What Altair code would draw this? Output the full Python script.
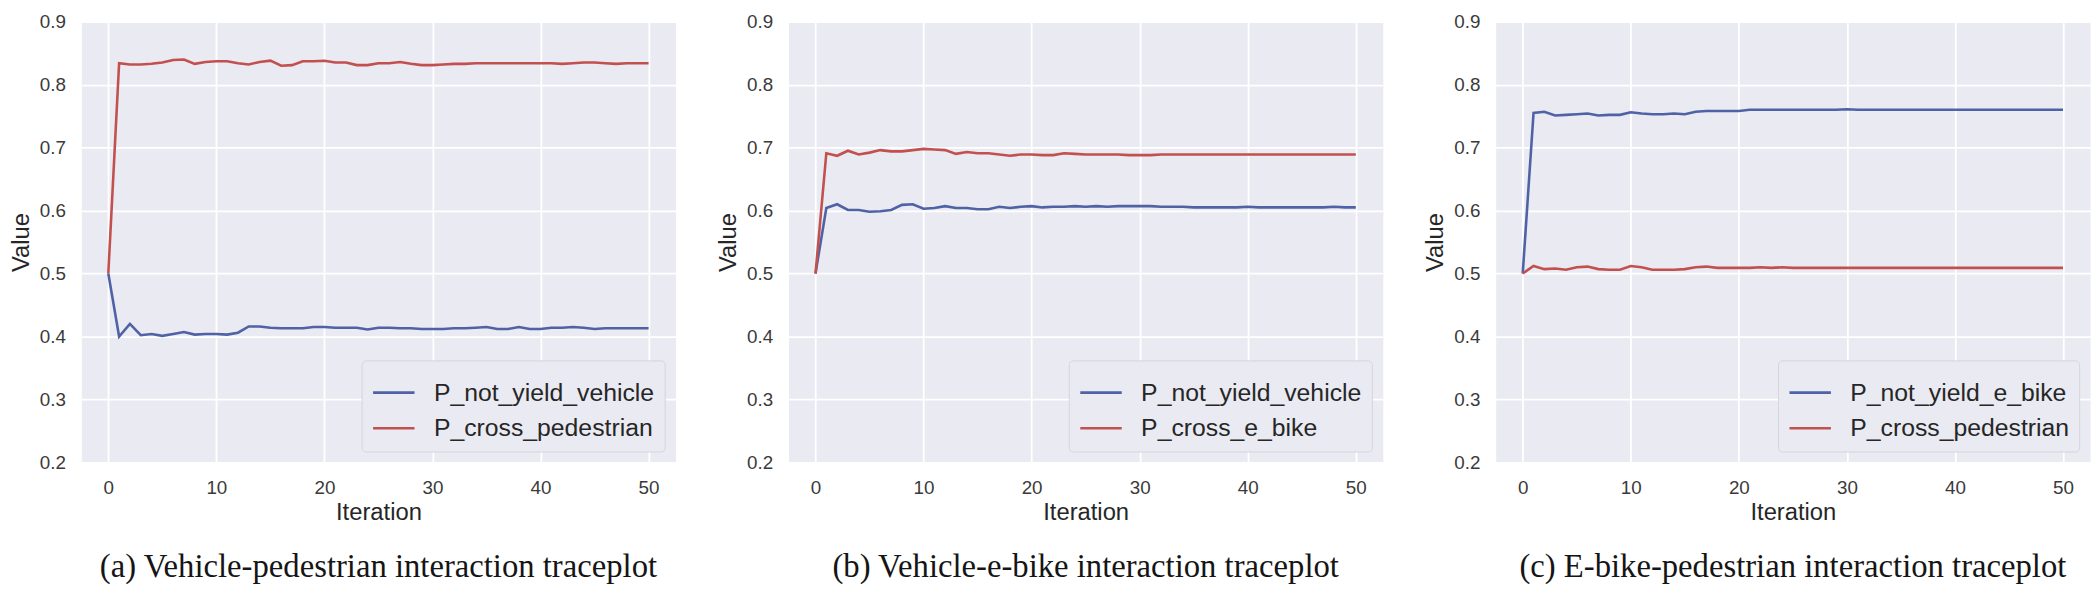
import altair as alt
import pandas as pd

iterations = list(range(51))

# Panel (a): Vehicle-pedestrian
a_names = ["P_not_yield_vehicle", "P_cross_pedestrian"]
a_not_yield = [0.500, 0.400, 0.420, 0.402, 0.404, 0.401, 0.404, 0.407, 0.403, 0.404,
               0.404, 0.403, 0.406, 0.416, 0.416, 0.414, 0.413, 0.413, 0.413, 0.415,
               0.415, 0.414, 0.414, 0.414, 0.411, 0.414, 0.414, 0.413, 0.413, 0.412,
               0.412, 0.412, 0.413, 0.413, 0.414, 0.415, 0.412, 0.412, 0.415, 0.412,
               0.412, 0.414, 0.414, 0.415, 0.414, 0.412, 0.413, 0.413, 0.413, 0.413,
               0.413]
a_cross = [0.500, 0.834, 0.832, 0.832, 0.833, 0.835, 0.839, 0.840, 0.833, 0.836,
           0.837, 0.837, 0.834, 0.832, 0.836, 0.838, 0.830, 0.831, 0.837, 0.837,
           0.838, 0.835, 0.835, 0.831, 0.831, 0.834, 0.834, 0.836, 0.833, 0.831,
           0.831, 0.832, 0.833, 0.833, 0.834, 0.834, 0.834, 0.834, 0.834, 0.834,
           0.834, 0.834, 0.833, 0.834, 0.835, 0.835, 0.834, 0.833, 0.834, 0.834,
           0.834]

# Panel (b): Vehicle-e-bike
b_names = ["P_not_yield_vehicle", "P_cross_e_bike"]
b_not_yield = [0.500, 0.604, 0.610, 0.601, 0.601, 0.598, 0.599, 0.601, 0.609, 0.610,
               0.603, 0.604, 0.607, 0.604, 0.604, 0.602, 0.602, 0.606, 0.604, 0.606,
               0.607, 0.605, 0.606, 0.606, 0.607, 0.606, 0.607, 0.606, 0.607, 0.607,
               0.607, 0.607, 0.606, 0.606, 0.606, 0.605, 0.605, 0.605, 0.605, 0.605,
               0.606, 0.605, 0.605, 0.605, 0.605, 0.605, 0.605, 0.605, 0.606, 0.605,
               0.605]
b_cross = [0.500, 0.691, 0.687, 0.695, 0.689, 0.692, 0.696, 0.694, 0.694, 0.696,
           0.698, 0.697, 0.696, 0.690, 0.693, 0.691, 0.691, 0.689, 0.687, 0.689,
           0.689, 0.688, 0.688, 0.691, 0.690, 0.689, 0.689, 0.689, 0.689, 0.688,
           0.688, 0.688, 0.689, 0.689, 0.689, 0.689, 0.689, 0.689, 0.689, 0.689,
           0.689, 0.689, 0.689, 0.689, 0.689, 0.689, 0.689, 0.689, 0.689, 0.689,
           0.689]

# Panel (c): E-bike-pedestrian
c_names = ["P_not_yield_e_bike", "P_cross_pedestrian"]
c_not_yield = [0.500, 0.755, 0.757, 0.751, 0.752, 0.753, 0.754, 0.751, 0.752, 0.752,
               0.756, 0.754, 0.753, 0.753, 0.754, 0.753, 0.757, 0.758, 0.758, 0.758,
               0.758, 0.760, 0.760, 0.760, 0.760, 0.760, 0.760, 0.760, 0.760, 0.760,
               0.761, 0.760, 0.760, 0.760, 0.760, 0.760, 0.760, 0.760, 0.760, 0.760,
               0.760, 0.760, 0.760, 0.760, 0.760, 0.760, 0.760, 0.760, 0.760, 0.760,
               0.760]
c_cross = [0.500, 0.512, 0.507, 0.508, 0.506, 0.510, 0.511, 0.507, 0.506, 0.506,
           0.512, 0.510, 0.506, 0.506, 0.506, 0.507, 0.510, 0.511, 0.509, 0.509,
           0.509, 0.509, 0.510, 0.509, 0.510, 0.509, 0.509, 0.509, 0.509, 0.509,
           0.509, 0.509, 0.509, 0.509, 0.509, 0.509, 0.509, 0.509, 0.509, 0.509,
           0.509, 0.509, 0.509, 0.509, 0.509, 0.509, 0.509, 0.509, 0.509, 0.509,
           0.509]

captions = ["(a) Vehicle-pedestrian interaction traceplot",
            "(b) Vehicle-e-bike interaction traceplot",
            "(c) E-bike-pedestrian interaction traceplot"]

x_ticks = [0, 10, 20, 30, 40, 50]
y_ticks = [0.2, 0.3, 0.4, 0.5, 0.6, 0.7, 0.8, 0.9]

BLUE = "#4F62A5"
RED = "#C1504F"


def panel(names, s1, s2, caption):
    df = pd.DataFrame({
        "Iteration": iterations + iterations,
        "Value": s1 + s2,
        "series": [names[0]] * len(s1) + [names[1]] * len(s2),
        "order": [0] * len(s1) + [1] * len(s2),
    })
    return alt.Chart(df).mark_line(strokeWidth=2.6).encode(
        x=alt.X("Iteration:Q",
                scale=alt.Scale(domain=[-2.5, 52.5], nice=False, zero=False),
                axis=alt.Axis(values=x_ticks, format="d", labelPadding=16,
                              titlePadding=4)),
        y=alt.Y("Value:Q",
                scale=alt.Scale(domain=[0.2, 0.9], nice=False, zero=False),
                axis=alt.Axis(values=y_ticks, format=".1f", labelPadding=16,
                              titlePadding=6)),
        color=alt.Color("series:N",
                        scale=alt.Scale(domain=names, range=[BLUE, RED]),
                        sort=names,
                        legend=alt.Legend(title=None, orient="bottom-right")),
        order="order:Q",
    ).properties(
        width=600,
        height=445,
        title=alt.TitleParams(caption, orient="bottom", anchor="middle",
                              frame="group", font="Liberation Serif",
                              fontSize=33, fontWeight="normal",
                              color="#151515", offset=27),
    )


chart = alt.hconcat(
    panel(a_names, a_not_yield, a_cross, captions[0]),
    panel(b_names, b_not_yield, b_cross, captions[1]),
    panel(c_names, c_not_yield, c_cross, captions[2]),
    spacing=40,
).resolve_scale(
    color="independent"
).resolve_legend(
    color="independent"
).properties(
    padding={"left": 1, "top": 1, "right": 0, "bottom": 0},
    background="white",
).configure_view(
    fill="#EAEAF2", stroke="transparent"
).configure_axis(
    domain=False, ticks=False, grid=True, gridColor="#FFFFFF", gridWidth=1.8,
    labelFont="Liberation Sans", labelFontSize=19, labelColor="#3a3a3a",
    titleFont="Liberation Sans", titleFontSize=24, titleFontWeight="normal",
    titleColor="#262626",
).configure_legend(
    orient="bottom-right", offset=11, symbolType="stroke", symbolSize=1750,
    symbolStrokeWidth=2.6, labelFont="Liberation Sans", labelFontSize=25,
    labelColor="#262626", labelLimit=400, labelOffset=18,
    fillColor="#EAEAF2", strokeColor="#D4D4DC", cornerRadius=4, padding=10,
    rowPadding=0,
)

chart.save("out.html", embed_options={"renderer": "svg", "actions": False})
